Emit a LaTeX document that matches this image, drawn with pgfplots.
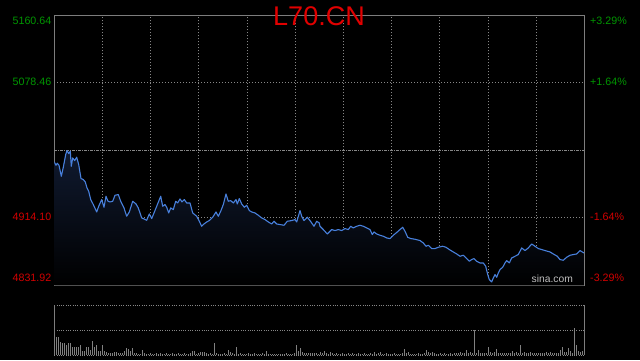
\documentclass[border=0pt]{standalone}
\usepackage{fontspec}
\setmainfont{Liberation Sans}
\usepackage{pgfplots}
\pgfplotsset{compat=1.18}
\usepackage{pgfplotstable}
\definecolor{upgreen}{RGB}{0,150,0}
\definecolor{downred}{RGB}{210,0,0}
\definecolor{titlered}{RGB}{225,0,0}
\definecolor{linecol}{RGB}{72,128,220}
\definecolor{gridcol}{RGB}{135,135,135}
\definecolor{framecol}{RGB}{125,125,125}
\definecolor{fillcol}{RGB}{16,26,48}
\definecolor{volcol}{RGB}{128,128,128}
\definecolor{sinacol}{RGB}{190,190,190}

\pgfplotstableread{
x y
54.3 4982.04
56.0 4978.02
57.3 4980.45
59.0 4978.02
61.3 4964.63
63.3 4975.58
65.7 4991.05
67.0 4995.92
68.7 4992.26
70.3 4995.06
71.3 4976.80
72.7 4986.91
74.7 4983.74
76.7 4987.76
78.7 4978.87
81.0 4961.83
83.3 4960.61
85.3 4957.69
87.0 4950.38
88.7 4946.36
90.7 4936.26
93.3 4930.17
96.7 4921.16
98.7 4928.10
101.7 4936.26
104.0 4926.88
106.0 4940.28
108.0 4934.19
110.0 4933.34
112.7 4934.19
115.0 4941.49
118.3 4942.35
120.7 4934.19
124.0 4926.03
126.7 4915.93
129.3 4921.16
132.7 4934.19
136.0 4930.90
138.3 4926.03
141.7 4913.86
144.0 4912.64
146.7 4911.06
149.3 4918.73
151.7 4913.13
154.0 4919.94
156.7 4928.10
160.7 4940.28
162.7 4928.10
165.0 4930.17
166.7 4926.88
168.7 4919.94
170.7 4926.03
173.3 4924.08
175.7 4934.19
177.7 4932.12
180.0 4936.99
182.0 4933.34
184.3 4936.26
186.7 4932.12
190.0 4932.12
192.7 4919.94
196.7 4915.93
199.3 4909.84
201.7 4903.75
204.0 4906.55
206.7 4908.99
209.3 4910.69
212.7 4914.71
216.0 4921.16
218.3 4915.93
220.7 4922.01
223.3 4930.17
226.0 4943.07
228.3 4934.19
230.7 4935.04
233.3 4932.12
236.0 4936.26
237.3 4930.90
239.3 4937.48
241.7 4930.90
244.3 4926.88
246.7 4929.32
249.3 4922.87
251.7 4921.16
255.0 4919.94
258.3 4917.14
261.7 4913.86
265.0 4911.91
268.3 4908.99
271.7 4906.55
274.0 4909.84
276.7 4906.55
280.0 4905.82
284.0 4904.97
287.3 4909.84
291.7 4910.69
295.0 4911.91
296.7 4908.99
300.0 4922.87
301.7 4915.93
304.0 4910.69
307.3 4914.71
310.0 4910.69
314.0 4903.75
316.7 4909.84
319.3 4907.77
320.0 4903.75
323.3 4899.73
327.3 4894.38
331.7 4899.73
335.0 4898.52
338.3 4899.73
341.7 4898.52
345.0 4900.95
348.3 4899.73
350.7 4903.75
353.3 4901.68
356.7 4903.75
360.0 4904.97
363.3 4903.75
366.7 4901.68
370.0 4899.73
372.3 4893.65
374.0 4896.81
376.7 4894.38
380.0 4892.80
383.3 4891.58
386.7 4889.51
390.0 4888.78
393.3 4892.80
397.3 4896.81
400.0 4899.73
402.7 4902.54
405.0 4897.67
407.7 4890.36
410.7 4888.78
415.0 4887.93
420.0 4886.34
423.3 4883.42
426.0 4879.40
428.3 4880.62
431.7 4876.60
435.0 4876.60
438.3 4878.19
442.7 4879.40
446.0 4878.19
449.3 4875.39
453.3 4872.46
456.7 4870.03
460.0 4867.23
463.3 4868.45
466.7 4864.43
469.3 4861.14
471.7 4863.21
474.0 4864.43
476.7 4861.14
480.0 4859.07
483.3 4859.07
485.7 4855.05
487.7 4844.95
489.3 4838.86
491.7 4835.94
493.3 4840.81
495.0 4844.95
496.7 4841.66
498.3 4846.90
500.0 4851.03
502.7 4853.84
505.0 4859.07
506.7 4861.99
509.3 4859.07
511.7 4865.16
515.0 4867.23
518.3 4869.30
521.7 4877.33
525.0 4874.17
528.3 4877.33
531.7 4882.20
535.0 4879.40
538.3 4876.60
541.7 4875.39
545.0 4874.17
550.0 4872.46
553.3 4870.03
557.3 4867.23
560.0 4863.21
563.3 4862.36
566.7 4866.01
570.0 4868.45
573.3 4869.30
576.7 4870.03
580.0 4874.17
582.3 4872.46
584.0 4871.25
}\pricetable

\pgfplotstableread{
x v
56 36.9
58 36.9
60 25.5
62 23.5
64 24.8
66 20.8
68 24.8
70 24.8
72 16.8
74 16.8
76 16.8
78 16.8
80 20.8
82 8.7
84 8.7
86 16.8
88 16.8
90 10.1
92 27.5
94 16.8
96 20.8
98 8.7
100 8.7
102 20.8
104 8.7
106 6.0
108 4.7
110 4.7
112 3.4
114 6.7
116 6.0
118 3.4
120 4.7
122 4.7
124 8.7
126 14.1
128 12.8
130 8.7
132 14.1
134 4.7
136 3.4
138 2.0
140 3.0
142 10.1
144 3.4
146 2.0
148 2.7
150 3.4
152 2.0
154 2.7
156 3.4
158 2.0
160 3.4
162 2.7
164 2.0
166 3.4
168 2.7
170 2.0
172 3.4
174 2.0
176 2.7
178 3.4
180 2.0
182 2.7
184 3.4
186 2.0
188 2.7
190 3.4
192 8.7
194 8.7
196 2.7
198 3.4
200 5.4
202 6.7
204 6.7
206 3.4
208 2.0
210 3.4
212 2.7
214 23.5
216 3.4
218 2.0
220 2.7
222 2.0
224 3.4
226 3.0
228 10.1
230 6.7
232 3.4
234 2.0
236 16.8
238 2.7
240 3.4
242 2.0
244 2.7
246 2.0
248 3.4
250 2.7
252 2.0
254 3.4
256 2.0
258 2.7
260 2.0
262 3.4
264 2.0
266 8.7
268 2.0
270 2.7
272 2.0
274 2.0
276 2.7
278 2.0
280 2.0
282 2.7
284 2.0
286 3.4
288 2.0
290 2.7
292 2.0
294 3.4
296 20.8
298 7.4
300 14.1
302 5.4
304 4.0
306 3.4
308 4.7
310 3.4
312 4.7
314 3.4
316 3.4
318 2.7
320 5.4
322 3.4
324 8.7
326 3.4
328 2.7
330 6.7
332 3.4
334 2.7
336 3.4
338 2.0
340 2.7
342 3.4
344 2.0
346 2.7
348 3.4
350 2.0
352 4.7
354 2.7
356 2.0
358 3.4
360 2.0
362 2.7
364 3.4
366 2.0
368 2.7
370 3.4
372 2.7
374 5.4
376 2.0
378 3.4
380 6.7
382 2.7
384 2.0
386 3.4
388 2.0
390 2.7
392 2.0
394 3.4
396 2.0
398 2.7
400 2.0
402 3.4
404 12.1
406 3.4
408 6.7
410 2.7
412 2.0
414 2.7
416 2.0
418 3.4
420 2.0
422 2.7
424 3.4
426 10.1
428 5.4
430 3.4
432 6.7
434 3.4
436 2.7
438 2.0
440 3.4
442 2.7
444 3.4
446 2.0
448 2.7
450 3.4
452 2.7
454 3.4
456 4.0
458 3.4
460 6.7
462 4.0
464 3.4
466 10.1
468 4.7
470 5.4
472 3.4
474 49.7
476 3.4
478 10.1
480 4.7
482 3.4
484 4.0
486 3.4
488 16.8
490 6.7
492 3.4
494 6.7
496 12.1
498 4.0
500 4.7
502 3.4
504 4.0
506 3.4
508 4.0
510 3.4
512 8.7
514 4.0
516 5.4
518 3.4
520 20.8
522 4.0
524 5.4
526 3.4
528 4.0
530 5.4
532 3.4
534 4.0
536 4.7
538 3.4
540 4.0
542 3.4
544 4.0
546 5.4
548 3.4
550 5.4
552 4.0
554 3.4
556 4.7
558 4.0
560 10.1
562 16.8
564 6.7
566 6.7
568 14.1
570 8.7
572 4.0
574 55.0
576 20.8
578 8.7
580 6.7
582 8.7
}\voltable

\begin{document}
\begin{tikzpicture}[x=1pt,y=1pt]
\useasboundingbox (0,0) rectangle (640,360);
\fill[black] (0,0) rectangle (640,360);

\begin{axis}[
  at={(54.3,91)}, anchor=south west,
  width=530pt, height=270pt, scale only axis,
  xmin=54.3, xmax=584.3, ymin=4831.92, ymax=5160.64,
  axis line style={draw=framecol, line width=0.9pt},
  xtick={102.48,150.66,198.84,247.02,295.2,343.38,391.56,439.74,487.92,536.1},
  ytick={4914.10,5078.46},
  extra y ticks={4996.28},
  extra y tick labels={},
  extra y tick style={major grid style={draw=gridcol, line width=0.7pt, dash pattern=on 3pt off 1pt on 1pt off 1pt}},
  xticklabels={}, yticklabels={},
  major tick length=0pt,
  grid=major,
  major grid style={draw=gridcol, line width=0.7pt, dash pattern=on 1pt off 2pt},
]
\addplot[draw=none, top color=fillcol, bottom color=black]
  table[x=x, y=y] {\pricetable}
  -- (axis cs:584.3,4831.92) -- (axis cs:54.3,4831.92) -- cycle;
\addplot[linecol, line width=1.1pt, line join=round, mark=none]
  table[x=x, y=y] {\pricetable};
\end{axis}

\begin{axis}[
  at={(54.3,10)}, anchor=south west,
  width=530pt, height=49.6pt, scale only axis,
  xmin=54.3, xmax=584.3, ymin=0, ymax=100,
  axis line style={draw=none},
  xtick=\empty,
  ytick={0,50,100}, yticklabels={},
  major tick length=0pt,
  ymajorgrids=true,
  major grid style={draw=gridcol, line width=0.7pt, dash pattern=on 1pt off 1.3pt},
  clip=false,
]
\addplot[ycomb, draw=volcol, line width=0.9pt, mark=none] table[x=x, y=v] {\voltable};
\draw[framecol, line width=0.9pt] (rel axis cs:0,0) -- (rel axis cs:0,1);
\draw[framecol, line width=0.9pt] (rel axis cs:1,0) -- (rel axis cs:1,1);
\end{axis}

\begin{scope}[every node/.style={inner sep=0pt, font=\fontsize{10.7}{12}\selectfont}]
\node[anchor=east, text=upgreen] at (51.5,339.5) {5160.64};
\node[anchor=east, text=upgreen] at (51.5,278) {5078.46};
\node[anchor=east, text=downred] at (51.5,143.3) {4914.10};
\node[anchor=east, text=downred] at (51.5,82) {4831.92};
\node[anchor=west, text=upgreen] at (590,339.3) {+3.29\%};
\node[anchor=west, text=upgreen] at (590,278) {+1.64\%};
\node[anchor=west, text=downred] at (590,142.7) {-1.64\%};
\node[anchor=west, text=downred] at (590,82.3) {-3.29\%};
\node[text=sinacol, font=\fontsize{10.3}{12}\selectfont] at (552.3,81) {sina.com};
\end{scope}
\node[inner sep=0pt, text=titlered, font=\fontsize{27}{30}\selectfont] at (319,343.3) {L70.CN};
\end{tikzpicture}
\end{document}
